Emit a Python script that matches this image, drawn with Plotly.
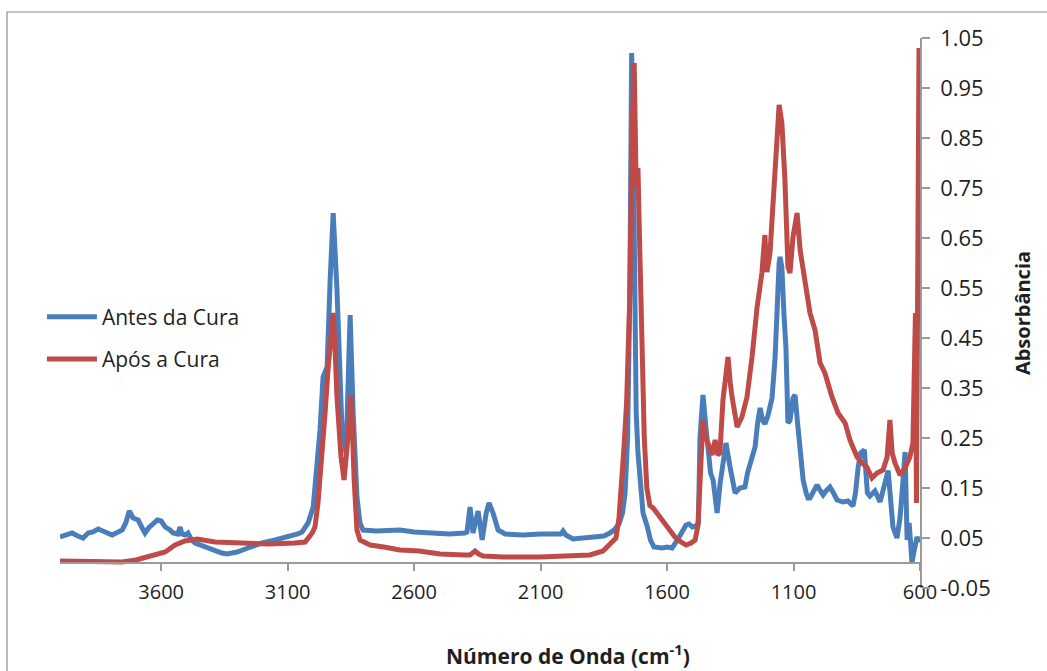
import plotly.graph_objects as go

# ---------------- data ----------------
antes_wn = [4000, 3975, 3952, 3930, 3909, 3889, 3870, 3849, 3820, 3794, 3770, 3754, 3740, 3726, 3711,
            3691, 3675, 3664, 3650, 3632, 3615, 3600, 3584, 3565, 3553, 3535, 3525, 3518, 3505, 3494,
            3480, 3466, 3427, 3387, 3360, 3340, 3300, 3257, 3201, 3150, 3098, 3060, 3043, 3019, 2999,
            2985, 2972, 2960, 2944, 2932, 2920, 2905, 2885, 2869, 2853, 2841, 2826, 2814, 2802, 2750,
            2700, 2656, 2600, 2525, 2460, 2400, 2391, 2379, 2367, 2347, 2331, 2315, 2304, 2288, 2268,
            2240, 2169, 2100, 2063, 2020, 2011, 2000, 1972, 1930, 1893, 1850, 1826, 1810, 1790, 1776,
            1766, 1756, 1747, 1740, 1734, 1728, 1722, 1715, 1707, 1695, 1679, 1665, 1652, 1620, 1600,
            1580, 1560, 1541, 1525, 1513, 1500, 1486, 1476, 1470, 1462, 1458, 1448, 1438, 1428, 1418,
            1402, 1390, 1379, 1367, 1351, 1340, 1331, 1312, 1292, 1282, 1272, 1252, 1242, 1232, 1222,
            1213, 1201, 1185, 1173, 1165, 1157, 1153, 1146, 1138, 1130, 1122, 1114, 1102, 1094, 1084,
            1074, 1062, 1050, 1043, 1035, 1020, 1007, 995, 983, 970, 956, 942, 928, 904, 885,
            865, 855, 845, 835, 820, 808, 798, 778, 758, 738, 726, 715, 707, 691, 679,
            667, 659, 651, 643, 637, 632, 625, 620, 612, 606, 600]
antes_abs = [0.052, 0.056, 0.060, 0.054, 0.050, 0.060, 0.062, 0.068, 0.062, 0.056, 0.062, 0.066, 0.080, 0.104, 0.090,
             0.086, 0.070, 0.060, 0.070, 0.080, 0.086, 0.084, 0.072, 0.066, 0.060, 0.058, 0.072, 0.058, 0.056, 0.060,
             0.046, 0.040, 0.032, 0.026, 0.020, 0.018, 0.022, 0.030, 0.040, 0.046, 0.052, 0.058, 0.062, 0.080, 0.112,
             0.180, 0.266, 0.372, 0.392, 0.566, 0.700, 0.546, 0.266, 0.220, 0.496, 0.300, 0.132, 0.080, 0.066, 0.064,
             0.066, 0.066, 0.062, 0.060, 0.058, 0.060, 0.062, 0.112, 0.060, 0.104, 0.046, 0.100, 0.120, 0.100, 0.066,
             0.058, 0.056, 0.058, 0.058, 0.058, 0.064, 0.056, 0.048, 0.050, 0.050, 0.054, 0.060, 0.066, 0.078, 0.100,
             0.140, 0.250, 0.550, 1.020, 0.850, 0.500, 0.300, 0.220, 0.170, 0.100, 0.074, 0.045, 0.032, 0.030, 0.032,
             0.030, 0.045, 0.062, 0.076, 0.078, 0.072, 0.074, 0.080, 0.250, 0.320, 0.336, 0.280, 0.226, 0.180, 0.166,
             0.100, 0.160, 0.192, 0.240, 0.192, 0.155, 0.140, 0.150, 0.152, 0.180, 0.200, 0.232, 0.280, 0.310, 0.285,
             0.278, 0.295, 0.330, 0.410, 0.530, 0.600, 0.612, 0.590, 0.500, 0.430, 0.280, 0.285, 0.330, 0.336, 0.280,
             0.232, 0.166, 0.140, 0.130, 0.130, 0.145, 0.156, 0.145, 0.136, 0.145, 0.152, 0.140, 0.126, 0.122, 0.124,
             0.114, 0.140, 0.190, 0.220, 0.226, 0.140, 0.134, 0.144, 0.122, 0.160, 0.185, 0.120, 0.072, 0.050, 0.090,
             0.166, 0.222, 0.046, 0.080, 0.040, 0.000, 0.020, 0.030, 0.052, 0.044, 0.048]

apos_wn = [4000, 3900, 3800, 3754, 3700, 3675, 3624, 3584, 3545, 3506, 3458, 3420, 3387, 3280, 3177,
           3071, 3031, 3003, 2992, 2980, 2972, 2960, 2952, 2940, 2932, 2920, 2912, 2905, 2889, 2877,
           2865, 2849, 2837, 2826, 2814, 2774, 2720, 2656, 2580, 2497, 2400, 2379, 2359, 2345, 2327,
           2250, 2102, 2000, 1905, 1853, 1818, 1802, 1790, 1782, 1770, 1760, 1748, 1738, 1730, 1722,
           1715, 1709, 1700, 1690, 1680, 1668, 1655, 1640, 1624, 1608, 1596, 1580, 1569, 1545, 1525,
           1505, 1489, 1478, 1470, 1458, 1448, 1438, 1422, 1410, 1399, 1391, 1379, 1367, 1359, 1350,
           1343, 1323, 1304, 1284, 1264, 1244, 1225, 1216, 1213, 1208, 1205, 1193, 1181, 1165, 1157,
           1146, 1134, 1122, 1114, 1102, 1090, 1086, 1074, 1055, 1035, 1015, 995, 976, 948, 924,
           896, 877, 849, 829, 810, 790, 770, 746, 730, 719, 710, 699, 679, 659, 640,
           628, 622, 618, 614, 608, 604, 600]
apos_abs = [0.004, 0.003, 0.002, 0.002, 0.006, 0.010, 0.016, 0.022, 0.036, 0.044, 0.048, 0.046, 0.042, 0.040, 0.038,
            0.040, 0.042, 0.060, 0.072, 0.120, 0.166, 0.240, 0.300, 0.390, 0.446, 0.500, 0.420, 0.332, 0.212, 0.166,
            0.232, 0.336, 0.166, 0.066, 0.046, 0.036, 0.032, 0.026, 0.024, 0.018, 0.016, 0.016, 0.024, 0.018, 0.014,
            0.012, 0.012, 0.013, 0.016, 0.024, 0.040, 0.050, 0.090, 0.166, 0.234, 0.320, 0.520, 0.860, 1.000, 0.750,
            0.790, 0.650, 0.450, 0.250, 0.150, 0.115, 0.110, 0.100, 0.090, 0.080, 0.070, 0.058, 0.052, 0.042, 0.036,
            0.040, 0.046, 0.075, 0.180, 0.286, 0.250, 0.240, 0.216, 0.246, 0.216, 0.220, 0.326, 0.390, 0.412, 0.360,
            0.332, 0.272, 0.292, 0.332, 0.412, 0.512, 0.580, 0.640, 0.656, 0.600, 0.582, 0.620, 0.732, 0.866, 0.916,
            0.880, 0.766, 0.592, 0.580, 0.652, 0.700, 0.700, 0.626, 0.566, 0.500, 0.466, 0.400, 0.380, 0.332, 0.300,
            0.280, 0.246, 0.212, 0.200, 0.192, 0.170, 0.180, 0.186, 0.212, 0.286, 0.220, 0.200, 0.176, 0.190, 0.212,
            0.240, 0.500, 0.500, 0.120, 1.030, 1.030, 0.870]

series_names = ["Antes da Cura", "Após a Cura"]
series_colors = ["#4a7ebb", "#be4b48"]

x_tick_vals = [3600, 3100, 2600, 2100, 1600, 1100, 600]
y_tick_vals = [-0.05, 0.05, 0.15, 0.25, 0.35, 0.45, 0.55, 0.65, 0.75, 0.85, 0.95, 1.05]
y_tick_text = ["-0.05", "0.05", "0.15", "0.25", "0.35", "0.45", "0.55", "0.65", "0.75", "0.85", "0.95", "1.05"]

x_title = "Número de Onda (cm<sup>-1</sup>)"
y_title = "Absorbância"

# ---------------- figure ----------------
FONT = "Open Sans"
AXIS_GRAY = "#9a9a9a"
TEXT = "#1f1f1f"

fig = go.Figure()
for i, (wn, ab) in enumerate([(antes_wn, antes_abs), (apos_wn, apos_abs)]):
    fig.add_trace(go.Scatter(
        x=wn, y=ab, mode="lines", name=series_names[i],
        line=dict(color=series_colors[i], width=5),
        legendgroup=f"g{i}",
    ))

y_min, y_max = -0.05, 1.05
zero_pos = (0 - y_min) / (y_max - y_min)

fig.update_layout(
    width=1047, height=671,
    margin=dict(l=60, r=127, t=38, b=83),
    paper_bgcolor="white", plot_bgcolor="white",
    font=dict(family=FONT, size=20, color=TEXT),
    showlegend=True,
    legend=dict(
        x=-0.021, y=0.53, xanchor="left", yanchor="top",
        bgcolor="rgba(0,0,0,0)", font=dict(size=21, color=TEXT),
        traceorder="grouped", tracegroupgap=12, itemwidth=50,
    ),
    xaxis=dict(
        range=[4000, 600], autorange=False,
        tickmode="array", tickvals=x_tick_vals,
        ticks="outside", ticklen=7, tickwidth=1.5, tickcolor=AXIS_GRAY,
        showline=True, linecolor=AXIS_GRAY, linewidth=1.5,
        showgrid=False, zeroline=False,
        anchor="free", position=zero_pos,
        ticklabelstandoff=4,
        tickfont=dict(size=20, color=TEXT),
    ),
    yaxis=dict(
        range=[y_min, y_max], autorange=False,
        side="right",
        tickmode="array", tickvals=y_tick_vals, ticktext=y_tick_text,
        ticks="outside", ticklen=8, tickwidth=1.5, tickcolor=AXIS_GRAY,
        showline=True, linecolor=AXIS_GRAY, linewidth=1.5,
        showgrid=False, zeroline=False,
        ticklabelstandoff=6,
        tickfont=dict(size=22, color=TEXT),
        title=dict(text=y_title, font=dict(size=20, color=TEXT, weight="bold"), standoff=26),
    ),
    annotations=[dict(
        text=x_title, xref="paper", yref="paper",
        x=(568 - 60) / 860, y=(588 - 654) / 550, xanchor="center", yanchor="middle",
        showarrow=False, font=dict(size=21, color=TEXT, weight="bold"),
    )],
    shapes=[dict(
        type="rect", xref="paper", yref="paper",
        x0=(7 - 60) / 860, x1=1.2, y0=-0.3, y1=(588 - 12) / 550,
        line=dict(color="#8c8c8c", width=1.2), fillcolor="rgba(0,0,0,0)", layer="below",
    )],
)

fig.write_html("out.html")
